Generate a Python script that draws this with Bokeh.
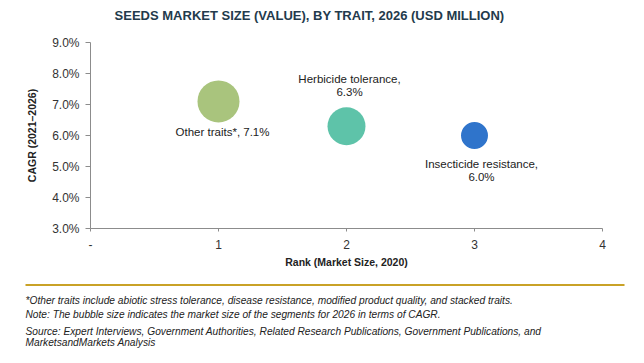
from bokeh.plotting import figure
from bokeh.layouts import column
from bokeh.models import (Range1d, FixedTicker, PrintfTickFormatter, Label,
                          ColumnDataSource, BoxAnnotation)
from bokeh.core.properties import value
from bokeh.embed import file_html
from bokeh.resources import INLINE
import math

# ---- data ----
traits = ["Other traits*", "Herbicide tolerance", "Insecticide resistance"]
rank = [1, 2, 3]                       # Rank (Market Size, 2020)
cagr = [7.1, 6.3, 6.0]                 # CAGR 2021-2026, %
market_size_2026 = [12000, 9800, 4950] # bubble size (estimated, USD million)
colors = ["#A9C47D", "#5EC3A9", "#2F74CB"]
x_ticks = [0, 1, 2, 3, 4]
x_tick_labels = ["-", "1", "2", "3", "4"]
y_ticks = [3, 4, 5, 6, 7, 8, 9]

title_text = "SEEDS MARKET SIZE (VALUE), BY TRAIT, 2026 (USD MILLION)"
notes = [
    "*Other traits include abiotic stress tolerance, disease resistance, modified product quality, and stacked traits.",
    "Note: The bubble size indicates the market size of the segments for 2026 in terms of CAGR.",
    "Source: Expert Interviews, Government Authorities, Related Research Publications, Government Publications, and",
    "MarketsandMarkets Analysis",
]

FONT = "Liberation Sans"
W = 644


def blank_panel(height):
    # frame covers the whole canvas; data units equal pixels (y measured up from bottom)
    f = figure(width=W, height=height, output_backend="svg", toolbar_location=None,
               x_range=Range1d(0, W), y_range=Range1d(0, height),
               x_axis_location=None, y_axis_location=None,
               min_border=0, min_border_left=0, min_border_right=0,
               min_border_top=0, min_border_bottom=0)
    f.outline_line_color = None
    f.xgrid.visible = False
    f.ygrid.visible = False
    f.frame_align = False
    return f


# ---- title panel ----
TH = 30
t = blank_panel(TH)
t.add_layout(Label(x=309, y=TH - 15, text=title_text, text_align="center",
                   text_baseline="middle", text_font=FONT, text_font_style="bold",
                   text_font_size="13px", text_color="#233A4C"))

# ---- main chart ----
k = 42.0 / math.sqrt(max(market_size_2026))
sizes = [k * math.sqrt(s) for s in market_size_2026]

label_texts = [
    f"{traits[0]}, {cagr[0]:.1f}%",
    f"{traits[1]},\n{cagr[1]:.1f}%",
    f"{traits[2]},\n{cagr[2]:.1f}%",
]
lab_xoff = [4, 3, 7]
lab_yoff = [31, -41, 35]

src = ColumnDataSource(dict(x=rank, y=cagr, size=sizes, color=colors,
                            text=label_texts, xo=lab_xoff, yo=lab_yoff))

p = figure(width=W, height=240, output_backend="svg", toolbar_location=None,
           x_range=Range1d(0, 4), y_range=Range1d(3, 9),
           min_border_left=90, min_border_right=42,
           min_border_top=12, min_border_bottom=42)
p.outline_line_color = None
p.xgrid.visible = False
p.ygrid.visible = False
p.frame_align = False

p.scatter("x", "y", size="size", color="color", line_color=None, source=src)
p.text("x", "y", text="text", x_offset="xo", y_offset="yo", source=src,
       text_align="center", text_baseline="middle", text_font=value(FONT),
       text_font_size="11.5px", text_color="#222222", text_line_height=1.1)

for ax in (p.xaxis[0], p.yaxis[0]):
    ax.axis_line_color = "#8C8C8C"
    ax.major_tick_line_color = "#8C8C8C"
    ax.minor_tick_line_color = None
    ax.major_tick_in = 0
    ax.major_label_text_color = "#333333"
    ax.major_label_text_font = FONT
    ax.major_label_text_font_size = "12px"
    ax.axis_label_text_font = FONT
    ax.axis_label_text_font_style = "bold"
    ax.axis_label_text_font_size = "10.5px"
    ax.axis_label_text_color = "#222222"

p.xaxis.ticker = FixedTicker(ticks=x_ticks)
p.xaxis.major_label_overrides = {t_: l for t_, l in zip(x_ticks, x_tick_labels)}
p.xaxis.major_tick_out = 3
p.xaxis.major_label_standoff = 8
p.xaxis.axis_label = "Rank (Market Size, 2020)"
p.xaxis.axis_label_standoff = 4

p.yaxis.ticker = FixedTicker(ticks=y_ticks)
p.yaxis.formatter = PrintfTickFormatter(format="%.1f%%")
p.yaxis.major_tick_out = 5
p.yaxis.major_label_standoff = 6
p.yaxis.axis_label = "CAGR (2021–2026)"
p.yaxis.axis_label_standoff = 11

# ---- footnote panel ----
QH = 93
q = blank_panel(QH)
q.add_layout(BoxAnnotation(left=25, right=624, bottom=QH - 15.5, top=QH - 13.5,
                           fill_color="#C9A227", fill_alpha=1.0,
                           line_color=None, level="overlay"))
for txt, yy in zip(notes, [29.5, 44, 60.5, 72]):
    q.add_layout(Label(x=25, y=QH - yy, text=txt, text_align="left",
                       text_baseline="middle", text_font=FONT,
                       text_font_style="italic", text_font_size="10.2px",
                       text_color="#222222"))

layout = column(t, p, q, spacing=0)
open("out.html", "w").write(file_html(layout, INLINE))
